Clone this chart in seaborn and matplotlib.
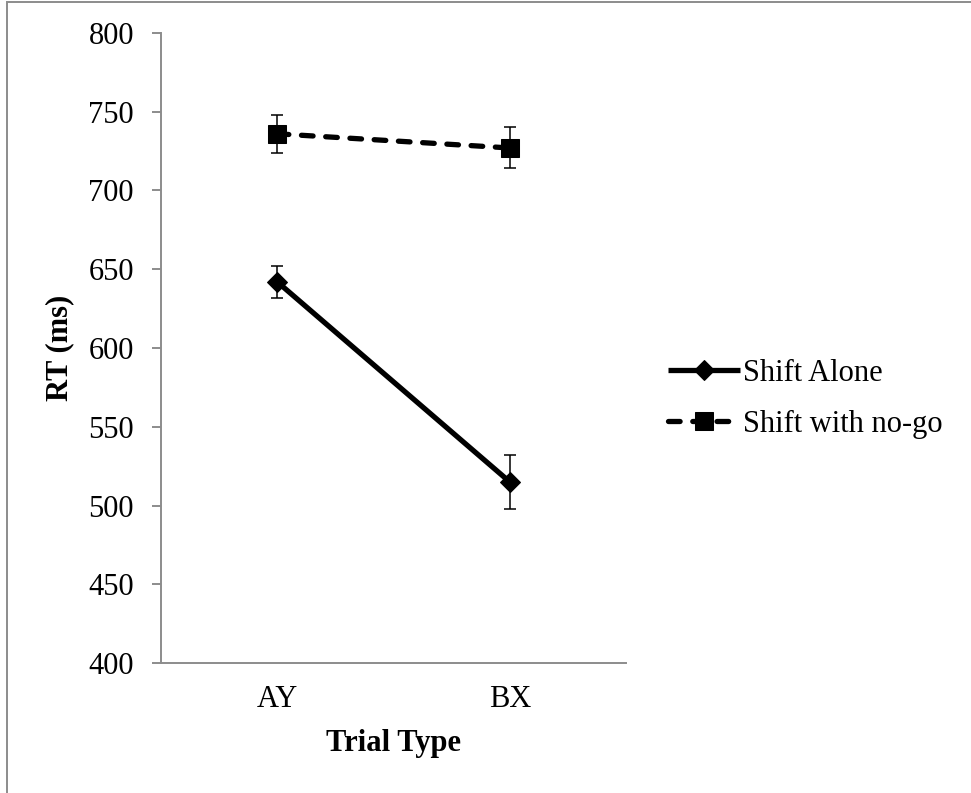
import pandas as pd
import matplotlib.pyplot as plt
import seaborn as sns
from matplotlib.patches import Rectangle

# data
trial_types = ["AY", "BX"]
conditions = ["Shift Alone", "Shift with no-go"]
alone_rt = [642, 515]
alone_se = [10, 17]
nogo_rt = [736, 727]
nogo_se = [12, 13]

df = pd.DataFrame({
    "Trial Type": trial_types * 2,
    "RT": alone_rt + nogo_rt,
    "SE": alone_se + nogo_se,
    "Condition": [conditions[0]] * 2 + [conditions[1]] * 2,
})

sns.set_style("white")
plt.rcParams["font.family"] = ["Liberation Serif", "DejaVu Serif"]
plt.rcParams["text.color"] = "black"
plt.rcParams["axes.labelcolor"] = "black"
plt.rcParams["xtick.labelcolor"] = "black"
plt.rcParams["ytick.labelcolor"] = "black"

fig = plt.figure(figsize=(9.71, 7.93), dpi=100)
ax = fig.add_axes([0.1658, 0.1639, 0.4789, 0.7945])

sns.lineplot(data=df, x="Trial Type", y="RT", style="Condition",
             markers={conditions[0]: "D", conditions[1]: "s"},
             dashes={conditions[0]: "", conditions[1]: (2.2, 2.4)},
             color="black", linewidth=3.8, markeredgecolor="black",
             legend=False, ax=ax)

lines = list(ax.lines)
for ln, ms in zip(lines, [10.5, 13]):
    ln.set_markersize(ms)
    ln.set_dash_capstyle("round")
    ln.set_solid_capstyle("butt")

# error bars
xpos = {t: i for i, t in enumerate(trial_types)}
ax.errorbar([xpos[t] for t in df["Trial Type"]], df["RT"], yerr=df["SE"],
            fmt="none", ecolor="black", elinewidth=1.1, capsize=4,
            capthick=1.1, zorder=4)

ax.set_xlim(-0.5, 1.5)
ax.set_ylim(400, 800)
ax.set_yticks(range(400, 801, 50))

for side in ["top", "right"]:
    ax.spines[side].set_visible(False)
for side in ["left", "bottom"]:
    ax.spines[side].set_color("#8c8c8c")
    ax.spines[side].set_linewidth(1.4)

ax.tick_params(axis="y", length=6.5, width=1.4, color="#8c8c8c",
               pad=13, labelsize=22, left=True, labelcolor="black")
ax.tick_params(axis="x", length=0, pad=16, labelsize=22, labelcolor="black")

ax.set_xlabel("Trial Type", fontsize=22, fontweight="bold", color="black")
ax.set_ylabel("RT (ms)", fontsize=22, fontweight="bold", color="black")
ax.xaxis.set_label_coords(0.5, -0.127)
ax.xaxis.label.set_va("center")
ax.yaxis.set_label_coords(-0.217, 0.5)
ax.yaxis.label.set_va("center")

leg = ax.legend(lines, conditions, loc="center left",
                bbox_to_anchor=(0.688, 0.497), bbox_transform=fig.transFigure,
                frameon=False, fontsize=22, handlelength=2.35,
                handletextpad=0.1, labelspacing=0.72, borderpad=0,
                borderaxespad=0)
for t in leg.get_texts():
    t.set_color("black")

# outer chart border (only left and top edges fall inside the image)
fig.add_artist(Rectangle((7 / 971, -0.5), 1.5, 1.5 - 1.5 / 793,
                         transform=fig.transFigure, fill=False,
                         edgecolor="#8c8c8c", linewidth=1.4))

fig.savefig("out.png", dpi=100)
